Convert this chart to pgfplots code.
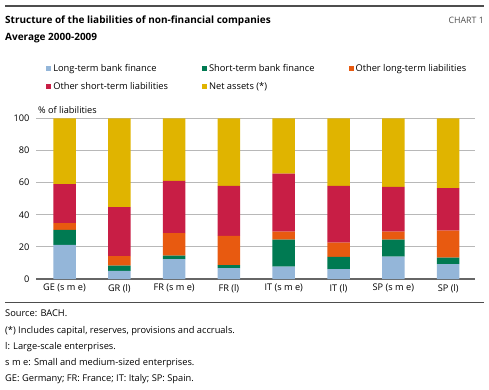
\documentclass[border=0pt]{standalone}
\usepackage{pgfplots}
\pgfplotsset{compat=1.18}
\usepackage{fontspec}
\setmainfont{Open Sans}
\definecolor{cLB}{HTML}{94B6D9}
\definecolor{cSB}{HTML}{007A52}
\definecolor{cOL}{HTML}{E85A10}
\definecolor{cOS}{HTML}{C81E45}
\definecolor{cNA}{HTML}{E0B400}
\definecolor{rule}{HTML}{4D4D4D}
\begin{document}
\begin{tikzpicture}[x=1bp,y=1bp]
\path[use as bounding box] (0,0) rectangle (489,-389);
\draw[line width=1.3bp, rule] (5,-6)--(484,-6);
\node[anchor=north west, inner sep=0, align=left, font=\fontsize{10bp}{17bp}\selectfont\bfseries] at (5,-16) {Structure of the liabilities of non-financial companies\\Average 2000-2009};
\node[anchor=north east, inner sep=0, font=\fontsize{8.8bp}{10bp}\selectfont, text=rule] at (484,-17) {CHART 1};
\node[anchor=west, inner sep=0, font=\fontsize{9.2bp}{10bp}\selectfont] at (38,-110) {\% of liabilities};
\begin{axis}[
  at={(36bp,-279bp)}, anchor=south west,
  scale only axis, width=439bp, height=160.7bp,
  ybar stacked, bar width=22.5bp,
  xmin=-0.52, xmax=7.49, ymin=0, ymax=100,
  xtick=data,
  xticklabels={GE (s m e),GR (l),FR (s m e),FR (l),IT (s m e),IT (l),SP (s m e),SP (l)},
  ytick={0,20,40,60,80,100},
  ymajorgrids, grid style={line width=0.8bp, color=black!28},
  major tick length=0,
  axis line style={draw=none},
  tick label style={font=\fontsize{9.2bp}{10bp}\selectfont},
  /pgf/number format/assume math mode=true,
  yticklabel style={xshift=-3bp},
  xticklabel style={yshift=-1.5bp},
  legend columns=3,
  legend style={draw=none, fill=none, at={(0.023,1.35)}, anchor=north west, inner sep=0,
    font=\fontsize{9.3bp}{10bp}\selectfont, row sep=5.5bp,
    /tikz/every even column/.append style={column sep=32bp}},
  legend cell align=left,
  legend image code/.code={\fill[#1] (0bp,-2.5bp) rectangle (5bp,2.5bp);},
  every axis plot/.append style={draw=none},
]
\addplot[fill=cLB] coordinates {(0,21.2) (1,5.0) (2,12.4) (3,6.8) (4,7.7) (5,6.2) (6,13.9) (7,9.3)};
\addplot[fill=cSB] coordinates {(0,9.3) (1,3.3) (2,2.1) (3,1.9) (4,16.8) (5,7.5) (6,10.6) (7,4.0)};
\addplot[fill=cOL] coordinates {(0,4.3) (1,6.0) (2,14.1) (3,18.1) (4,5.0) (5,8.9) (6,5.0) (7,16.8)};
\addplot[fill=cOS] coordinates {(0,24.3) (1,30.5) (2,32.4) (3,31.2) (4,36.1) (5,35.4) (6,27.8) (7,26.5)};
\addplot[fill=cNA] coordinates {(0,40.9) (1,55.2) (2,39.0) (3,42.0) (4,34.4) (5,42.0) (6,42.7) (7,43.4)};
\legend{Long-term bank finance,Short-term bank finance,Other long-term liabilities,Other short-term liabilities,Net assets (*)}
\draw[line width=1.5bp, black!60] (rel axis cs:0,0) -- (rel axis cs:1,0);
\end{axis}
\draw[line width=1.3bp, rule] (5,-302.5)--(484,-302.5);
\node[anchor=north west, inner sep=0, align=left, font=\fontsize{9.3bp}{16.1bp}\selectfont] at (5,-310) {Source: BACH.\\(*) Includes capital, reserves, provisions and accruals.\\l: Large-scale enterprises.\\s m e: Small and medium-sized enterprises.\\GE: Germany; FR: France; IT: Italy; SP: Spain.};
\end{tikzpicture}
\end{document}
